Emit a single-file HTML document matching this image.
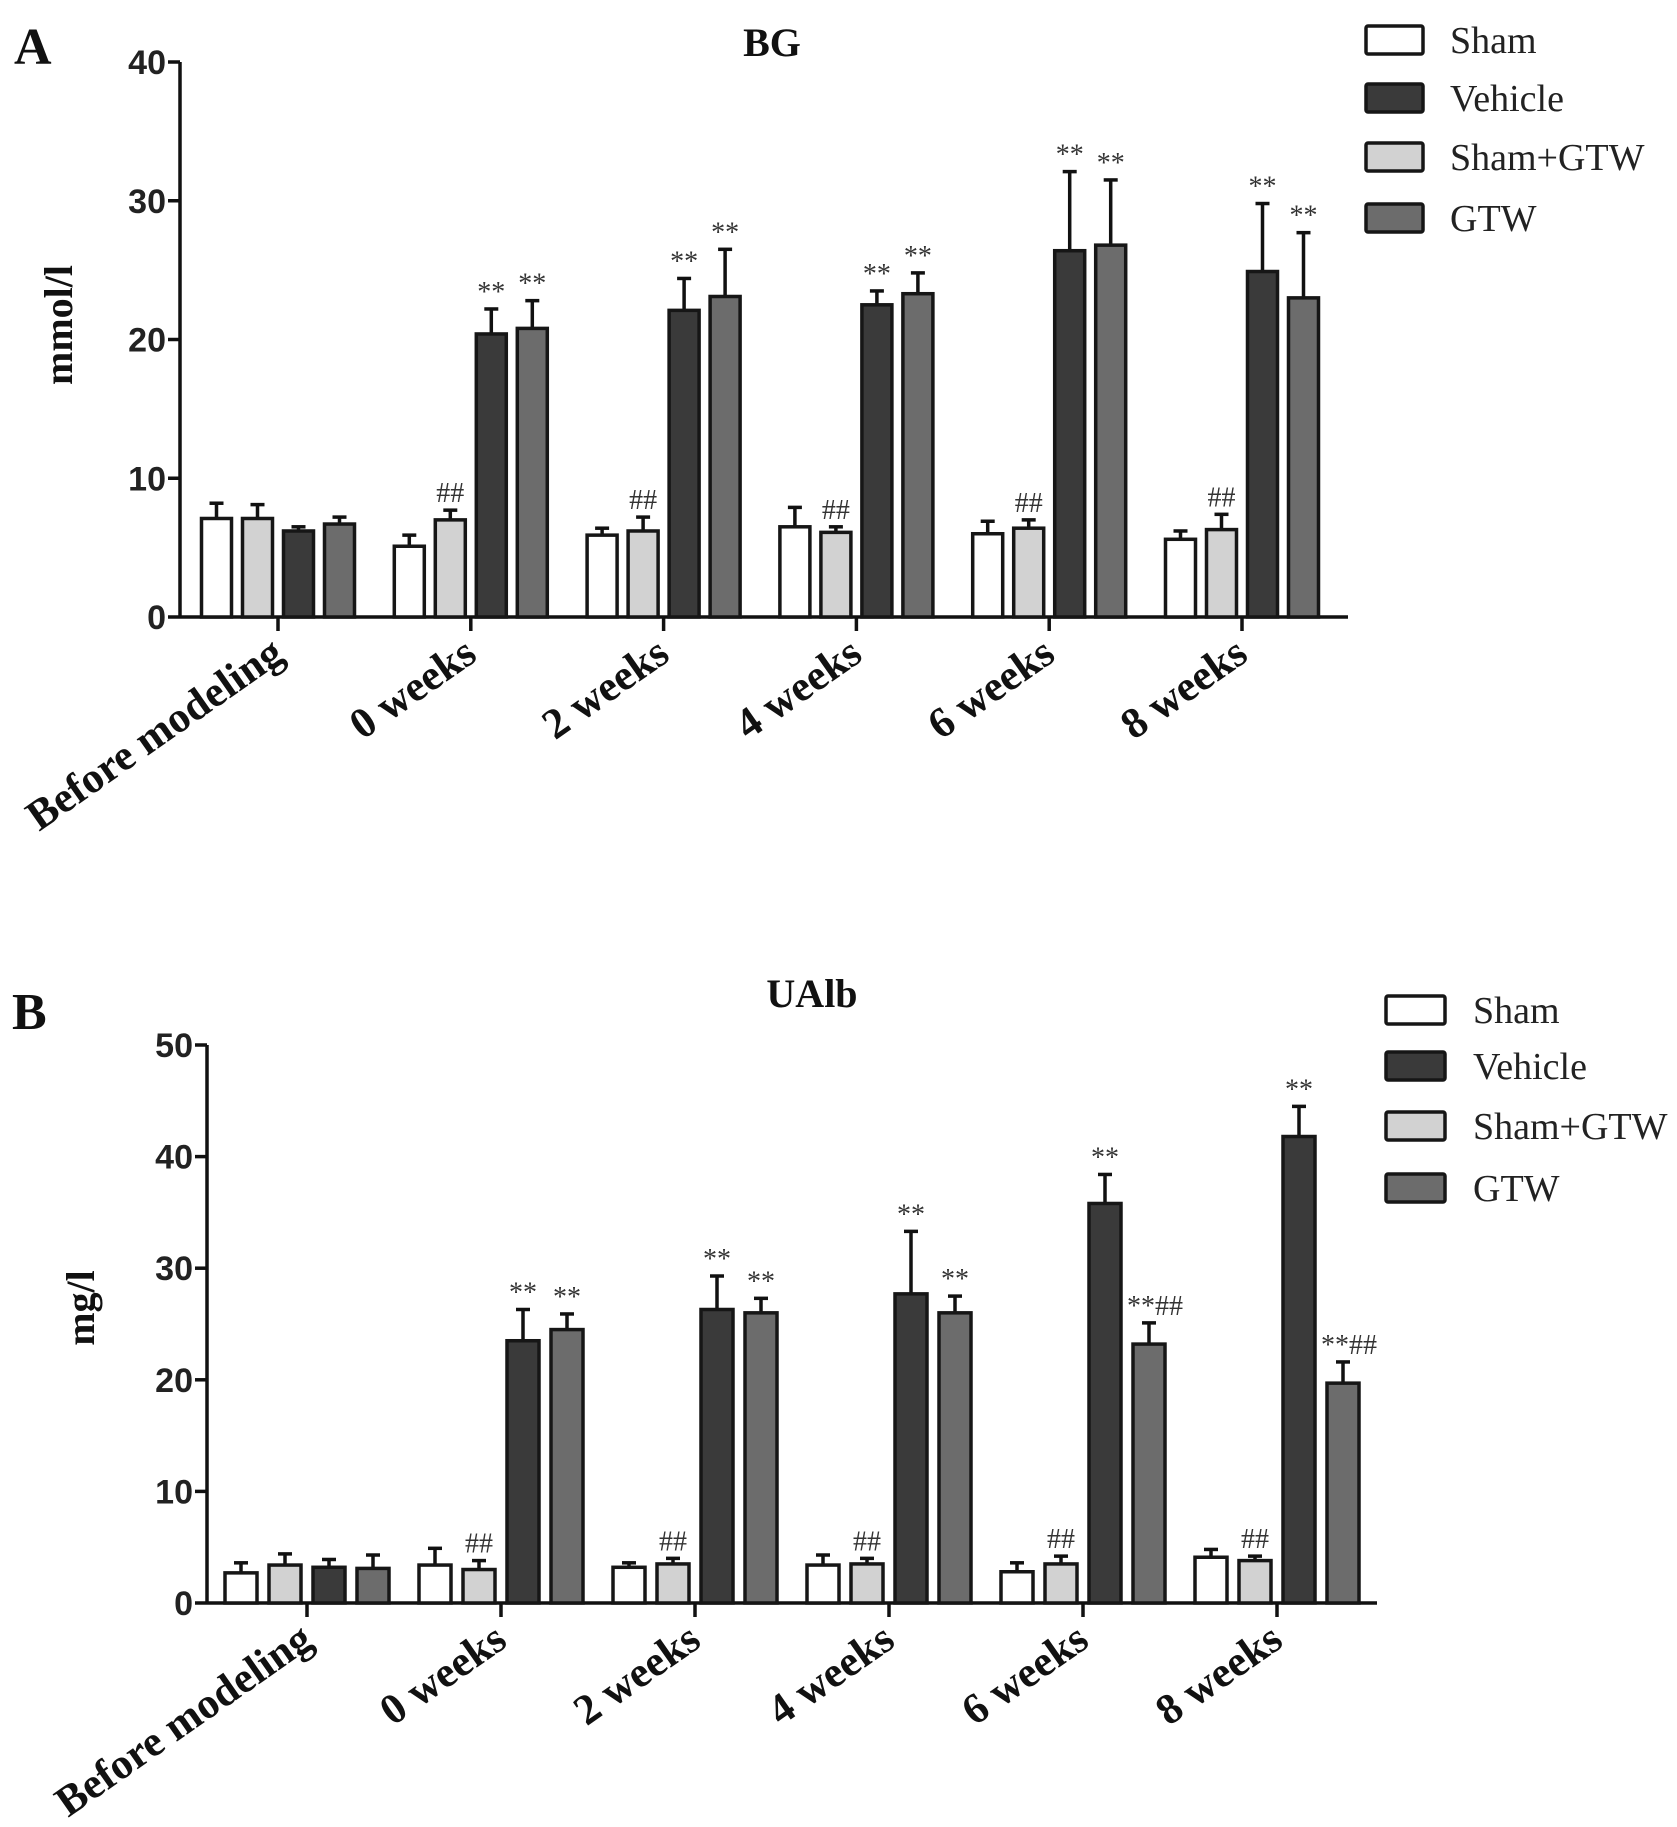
<!DOCTYPE html>
<html><head><meta charset="utf-8"><style>
html,body{margin:0;padding:0;background:#fff;}
svg{display:block;}
</style></head><body>
<svg id="fig" width="1677" height="1827" xmlns="http://www.w3.org/2000/svg"></svg>
<script>
const categories = ["Before modeling","0 weeks","2 weeks","4 weeks","6 weeks","8 weeks"];
const seriesNames = ["Sham","Vehicle","Sham+GTW","GTW"];
// Panel A: BG (mmol/l)
const bgSham      = [7.1, 5.1, 5.9, 6.5, 6.0, 5.6];
const bgShamErr   = [1.1, 0.8, 0.5, 1.4, 0.9, 0.6];
const bgShamGTW   = [7.1, 7.0, 6.2, 6.1, 6.4, 6.3];
const bgShamGTWErr= [1.0, 0.7, 1.0, 0.4, 0.6, 1.1];
const bgVehicle   = [6.2, 20.4, 22.1, 22.5, 26.4, 24.9];
const bgVehicleErr= [0.3, 1.8, 2.3, 1.0, 5.7, 4.9];
const bgGTW       = [6.7, 20.8, 23.1, 23.3, 26.8, 23.0];
const bgGTWErr    = [0.5, 2.0, 3.4, 1.5, 4.7, 4.7];
const bgTicks     = [0, 10, 20, 30, 40];
const bgAnnShamGTW= ["", "##", "##", "##", "##", "##"];
const bgAnnVehicle= ["", "**", "**", "**", "**", "**"];
const bgAnnGTW    = ["", "**", "**", "**", "**", "**"];
// Panel B: UAlb (mg/l)
const uaSham      = [2.7, 3.4, 3.2, 3.4, 2.8, 4.1];
const uaShamErr   = [0.9, 1.5, 0.4, 0.9, 0.8, 0.7];
const uaShamGTW   = [3.4, 3.0, 3.5, 3.5, 3.5, 3.8];
const uaShamGTWErr= [1.0, 0.8, 0.5, 0.5, 0.7, 0.4];
const uaVehicle   = [3.2, 23.5, 26.3, 27.7, 35.8, 41.8];
const uaVehicleErr= [0.7, 2.8, 3.0, 5.6, 2.6, 2.7];
const uaGTW       = [3.1, 24.5, 26.0, 26.0, 23.2, 19.7];
const uaGTWErr    = [1.2, 1.4, 1.3, 1.5, 1.9, 1.9];
const uaTicks     = [0, 10, 20, 30, 40, 50];
const uaAnnShamGTW= ["", "##", "##", "##", "##", "##"];
const uaAnnVehicle= ["", "**", "**", "**", "**", "**"];
const uaAnnGTW    = ["", "**", "**", "**", "**##", "**##"];

const NS = "http://www.w3.org/2000/svg";
const svg = document.getElementById("fig");
const fills = {"Sham":"#ffffff","Sham+GTW":"#d2d2d2","Vehicle":"#3a3a3a","GTW":"#6c6c6c"};

function mk(tag, attrs, parent, text){
  const e = document.createElementNS(NS, tag);
  for (const k in attrs) e.setAttribute(k, attrs[k]);
  if (text !== undefined) e.textContent = text;
  (parent || svg).appendChild(e);
  return e;
}

function drawPanel(cfg){
  const g = mk("g", {});
  
  
  const yScale = v => cfg.y0 - (v - cfg.ymin) / (cfg.ymax - cfg.ymin) * (cfg.y0 - cfg.yTop);
  const xCenter = i => cfg.xFirst + i * cfg.groupStep;

  const L = mk("text", {x: cfg.letterX, y: cfg.letterY, "font-family": "Liberation Serif, serif", "font-weight": "bold", "font-size": 52, fill: "#111"}, g, cfg.letter);
  
  
  const T = mk("text", {x: cfg.titleX, y: cfg.titleY, "text-anchor": "middle", "font-family": "Liberation Serif, serif", "font-weight": "bold", "font-size": 40, fill: "#111"}, g, cfg.title);
  
  

  const ya = mk("line", {x1: cfg.axisX, y1: cfg.yTop, x2: cfg.axisX, y2: cfg.y0, stroke: "#111", "stroke-width": 3.5}, g);
  
  
  cfg.ticks.forEach(t => {
    const y = yScale(t);
    const tl = mk("line", {x1: cfg.axisX - 12, y1: y, x2: cfg.axisX, y2: y, stroke: "#111", "stroke-width": 3.5}, g);
    
    
    const tx = mk("text", {x: cfg.axisX - 14, y: y + 12, "text-anchor": "end", "font-family": "Liberation Sans, sans-serif", "font-weight": "bold", "font-size": 34, fill: "#222"}, g, String(t));
    
    
  });
  const yt = mk("text", {x: 0, y: 0, transform: `translate(${cfg.yTitleX},${cfg.yTitleY}) rotate(-90)`, "text-anchor": "middle", "font-family": "Liberation Serif, serif", "font-weight": "bold", "font-size": 40, fill: "#111"}, g, cfg.yTitle);
  
  

  const xa = mk("line", {x1: cfg.axisX, y1: cfg.y0, x2: cfg.axisEnd, y2: cfg.y0, stroke: "#111", "stroke-width": 3.5}, g);
  
  

  const order = [
    {name: "Sham", v: cfg.sham, e: cfg.shamErr, a: null},
    {name: "Sham+GTW", v: cfg.shamGTW, e: cfg.shamGTWErr, a: cfg.annShamGTW},
    {name: "Vehicle", v: cfg.vehicle, e: cfg.vehicleErr, a: cfg.annVehicle},
    {name: "GTW", v: cfg.gtw, e: cfg.gtwErr, a: cfg.annGTW}
  ];
  const span = 4 * cfg.barW + 3 * (cfg.pitch - cfg.barW);

  categories.forEach((cat, i) => {
    const cx = xCenter(i);
    const tk = mk("line", {x1: cx, y1: cfg.y0, x2: cx, y2: cfg.y0 + 14, stroke: "#111", "stroke-width": 3.5}, g);
    
    
    const lx = cx + 8, ly = cfg.y0 + 42;
    const lab = mk("text", {x: lx, y: ly, transform: `rotate(-35 ${lx} ${ly})`, "text-anchor": "end", "font-family": "Liberation Serif, serif", "font-weight": "bold", "font-size": 43, fill: "#111"}, g, cat);
    
    

    order.forEach((s, j) => {
      const left = cx - span / 2 + j * cfg.pitch;
      const val = s.v[i], err = s.e[i];
      const top = yScale(val), etop = yScale(val + err);
      const mid = left + cfg.barW / 2;
      const eb = mk("line", {x1: mid, y1: top, x2: mid, y2: etop, stroke: "#111", "stroke-width": 3.5}, g);
      
      
      const ec = mk("line", {x1: mid - 7, y1: etop, x2: mid + 7, y2: etop, stroke: "#111", "stroke-width": 3.5}, g);
      
      
      const r = mk("rect", {x: left, y: top, width: cfg.barW, height: cfg.y0 - top, fill: fills[s.name], stroke: "#161616", "stroke-width": 3.5}, g);
      
      
      if (s.a && s.a[i]) {
        const txt = s.a[i];
        const off = txt.length > 2 ? 6 : 0;
        const an = mk("text", {x: mid + off, y: etop - 8, "text-anchor": "middle", "font-family": "Liberation Serif, serif", "font-size": 28, fill: "#333"}, g, txt);
        
        
      }
    });
  });

  const legOrder = ["Sham", "Vehicle", "Sham+GTW", "GTW"];
  legOrder.forEach((n, k) => {
    const cy = cfg.legY[k];
    const lg = mk("g", {}, g);
    
    
    mk("rect", {x: cfg.legX, y: cy - 14, width: cfg.legW, height: 28, rx: 2, fill: fills[n], stroke: "#161616", "stroke-width": 3.5}, lg);
    mk("text", {x: cfg.legTextX, y: cy + 13, "font-family": "Liberation Serif, serif", "font-size": 38, fill: "#222"}, lg, n);
  });
}

drawPanel({
  id: "bg", letter: "A", letterX: 14, letterY: 64, title: "BG", titleX: 772, titleY: 56,
  yTitle: "mmol/l", yTitleX: 72, yTitleY: 325,
  axisX: 180, axisEnd: 1348, yTop: 62, y0: 617, ymin: 0, ymax: 40, ticks: bgTicks,
  xFirst: 278, groupStep: 192.8, barW: 30, pitch: 41,
  sham: bgSham, shamErr: bgShamErr, shamGTW: bgShamGTW, shamGTWErr: bgShamGTWErr,
  vehicle: bgVehicle, vehicleErr: bgVehicleErr, gtw: bgGTW, gtwErr: bgGTWErr,
  annShamGTW: bgAnnShamGTW, annVehicle: bgAnnVehicle, annGTW: bgAnnGTW,
  legX: 1366, legW: 57, legTextX: 1450, legY: [40, 98, 157, 218]
});

drawPanel({
  id: "ualb", letter: "B", letterX: 12, letterY: 1029, title: "UAlb", titleX: 812, titleY: 1007,
  yTitle: "mg/l", yTitleX: 94, yTitleY: 1308,
  axisX: 207, axisEnd: 1377, yTop: 1045, y0: 1603, ymin: 0, ymax: 50, ticks: uaTicks,
  xFirst: 307, groupStep: 194, barW: 32, pitch: 44,
  sham: uaSham, shamErr: uaShamErr, shamGTW: uaShamGTW, shamGTWErr: uaShamGTWErr,
  vehicle: uaVehicle, vehicleErr: uaVehicleErr, gtw: uaGTW, gtwErr: uaGTWErr,
  annShamGTW: uaAnnShamGTW, annVehicle: uaAnnVehicle, annGTW: uaAnnGTW,
  legX: 1386, legW: 59, legTextX: 1473, legY: [1010, 1066, 1126, 1188]
});
</script>
</body></html>
